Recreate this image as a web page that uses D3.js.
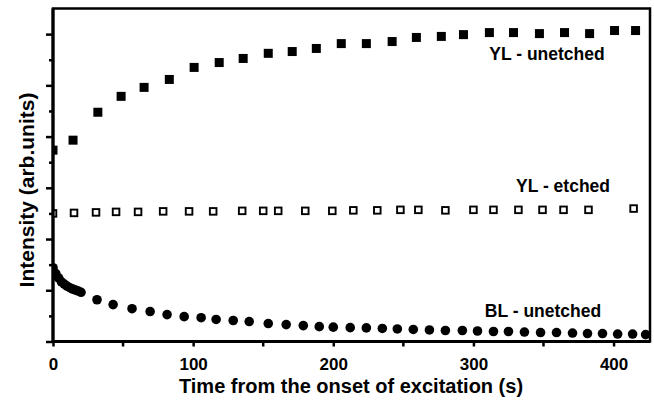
<!DOCTYPE html>
<html>
<head>
<meta charset="utf-8">
<script src="https://cdn.jsdelivr.net/npm/d3@7"></script>
<style>
  body { margin: 0; background: #fff; }
  svg { display: block; font-family: "Liberation Sans", Arial, sans-serif; font-weight: bold; }
  .axis path, .axis line { stroke: #000; }
  .axis text { font-size: 17px; font-weight: bold; fill: #000; }
</style>
</head>
<body>
<div id="chart"></div>
<script>

// time (s) and intensity (arb. units)
var ylUnetchedT = [0, 14.3, 32, 48.6, 65, 83, 100.7, 118.6, 135.7, 153.6, 170.7, 187.9, 205.7,
                   223.6, 242, 259.3, 277.1, 292.9, 311.4, 328.6, 347.1, 365, 382.9, 400.7, 415.7];
var ylUnetchedI = [7.47, 7.86, 8.95, 9.57, 9.92, 10.23, 10.70, 10.89, 11.05, 11.25, 11.32, 11.44, 11.63,
                   11.63, 11.71, 11.87, 11.91, 11.98, 12.06, 12.06, 12.02, 12.06, 12.02, 12.14, 12.14];

var ylEtchedT = [0, 15, 30.7, 45, 60.7, 78.6, 97.1, 114.3, 135, 150, 160.7, 180, 199.3,
                 214.3, 231.4, 247.9, 260.7, 280, 300, 314.3, 332.1, 349.3, 364.3, 382.1, 414.3];
var ylEtchedI = [5.00, 5.02, 5.04, 5.06, 5.06, 5.08, 5.08, 5.08, 5.10, 5.10, 5.10, 5.10, 5.10,
                 5.12, 5.12, 5.14, 5.14, 5.12, 5.14, 5.14, 5.14, 5.14, 5.14, 5.14, 5.19];

var blUnetchedT = [0, 2, 4, 6, 8, 10, 12, 14, 16, 18, 20,
                   31.4, 42.9, 56.4, 69.3, 81.4, 93.6, 105.7, 116.4, 128.6, 140, 153.6, 166.4, 178.6, 190,
                   200, 212.1, 223.6, 235, 245.7, 257.1, 268.6, 280, 292.1, 302.9, 314.3, 325, 336.4,
                   347.9, 359.3, 370.7, 381.4, 392.1, 402.9, 413.6, 422.9];
var blUnetchedI = [2.88, 2.65, 2.48, 2.33, 2.24, 2.16, 2.10, 2.05, 2.01, 1.97, 1.92,
                   1.63, 1.44, 1.28, 1.17, 1.05, 0.97, 0.93, 0.86, 0.82, 0.78, 0.70, 0.66, 0.62, 0.58,
                   0.56, 0.54, 0.53, 0.51, 0.49, 0.47, 0.45, 0.43, 0.43, 0.41, 0.39, 0.39, 0.37,
                   0.35, 0.35, 0.33, 0.31, 0.31, 0.29, 0.29, 0.27];

var xTicks = [0, 100, 200, 300, 400];
var xMinorTicks = [50, 150, 250, 350];
var seriesLabels = ["YL - unetched", "YL - etched", "BL - unetched"];

function pairs(t, v) {
  return t.map(function(d, i) { return {t: d, v: v[i]}; });
}

var width  = 654,
    height = 403;
var margin = {top: 8.5, right: 4, bottom: 61.5, left: 53};

var x = d3.scaleLinear().domain([0, 426]).range([margin.left, width - margin.right]);
var y = d3.scaleLinear().domain([0, 13]).range([height - margin.bottom, margin.top]);

var svg = d3.select("#chart").append("svg")
  .attr("width", width)
  .attr("height", height);

svg.append("clipPath")
  .attr("id", "plot-clip")
  .append("rect")
  .attr("x", margin.left)
  .attr("y", margin.top)
  .attr("width", width - margin.left - margin.right)
  .attr("height", height - margin.top - margin.bottom);

var plot = svg.append("g").attr("clip-path", "url(#plot-clip)");

// BL - unetched : filled circles
plot.selectAll(".bl")
  .data(pairs(blUnetchedT, blUnetchedI))
  .enter().append("circle")
  .attr("class", "bl")
  .attr("cx", function(d) { return x(d.t); })
  .attr("cy", function(d) { return y(d.v); })
  .attr("r", 4.8)
  .attr("fill", "#000");

// YL - etched : open squares
plot.selectAll(".yle")
  .data(pairs(ylEtchedT, ylEtchedI))
  .enter().append("rect")
  .attr("class", "yle")
  .attr("x", function(d) { return x(d.t) - 3.3; })
  .attr("y", function(d) { return y(d.v) - 3.3; })
  .attr("width", 6.6)
  .attr("height", 6.6)
  .attr("fill", "#fff")
  .attr("stroke", "#000")
  .attr("stroke-width", 1.9);

// YL - unetched : filled squares
plot.selectAll(".ylu")
  .data(pairs(ylUnetchedT, ylUnetchedI))
  .enter().append("rect")
  .attr("class", "ylu")
  .attr("x", function(d) { return x(d.t) - 4.5; })
  .attr("y", function(d) { return y(d.v) - 4.5; })
  .attr("width", 9)
  .attr("height", 9)
  .attr("fill", "#000");

// axes
var xAxis = svg.append("g")
  .attr("class", "axis")
  .attr("transform", "translate(0," + (height - margin.bottom) + ")")
  .call(d3.axisBottom(x).tickValues(xTicks).tickSize(5).tickPadding(11).tickFormat(d3.format("d")));
xAxis.select(".domain").remove();
xAxis.selectAll("line").attr("stroke-width", 2.5);

svg.append("g")
  .attr("transform", "translate(0," + (height - margin.bottom) + ")")
  .selectAll("line")
  .data(xMinorTicks)
  .enter().append("line")
  .attr("x1", function(d) { return x(d); })
  .attr("x2", function(d) { return x(d); })
  .attr("y1", 0)
  .attr("y2", 5)
  .attr("stroke", "#000")
  .attr("stroke-width", 2.5);

var yAxis = svg.append("g")
  .attr("class", "axis")
  .attr("transform", "translate(" + margin.left + ",0)")
  .call(d3.axisLeft(y).tickValues(d3.range(0, 13)).tickFormat(""));
yAxis.select(".domain").remove();
yAxis.selectAll(".tick line")
  .attr("x2", function(d) { return d % 2 === 0 ? -7 : -4; })
  .attr("stroke-width", 2.5);

// frame
svg.append("rect")
  .attr("x", margin.left)
  .attr("y", margin.top)
  .attr("width", width - margin.left - margin.right)
  .attr("height", height - margin.top - margin.bottom)
  .attr("fill", "none")
  .attr("stroke", "#000")
  .attr("stroke-width", 2.5);

svg.append("line")
  .attr("x1", margin.left).attr("x2", width - margin.right)
  .attr("y1", height - margin.bottom).attr("y2", height - margin.bottom)
  .attr("stroke", "#000").attr("stroke-width", 3.2);
svg.append("line")
  .attr("x1", margin.left).attr("x2", margin.left)
  .attr("y1", margin.top).attr("y2", height - margin.bottom)
  .attr("stroke", "#000").attr("stroke-width", 3.2);

// series labels
var labelPos = [[547, 60], [563, 192], [543, 317]];
svg.selectAll(".label")
  .data(seriesLabels)
  .enter().append("text")
  .attr("class", "label")
  .attr("x", function(d, i) { return labelPos[i][0]; })
  .attr("y", function(d, i) { return labelPos[i][1]; })
  .attr("text-anchor", "middle")
  .style("font-size", "17.5px")
  .text(function(d) { return d; });

// axis titles
svg.append("text")
  .attr("x", 351)
  .attr("y", 393)
  .attr("text-anchor", "middle")
  .style("font-size", "20px")
  .text("Time from the onset of excitation (s)");

svg.append("text")
  .attr("transform", "translate(34,190) rotate(-90)")
  .attr("text-anchor", "middle")
  .style("font-size", "21px")
  .text("Intensity (arb.units)");

</script>
</body>
</html>
